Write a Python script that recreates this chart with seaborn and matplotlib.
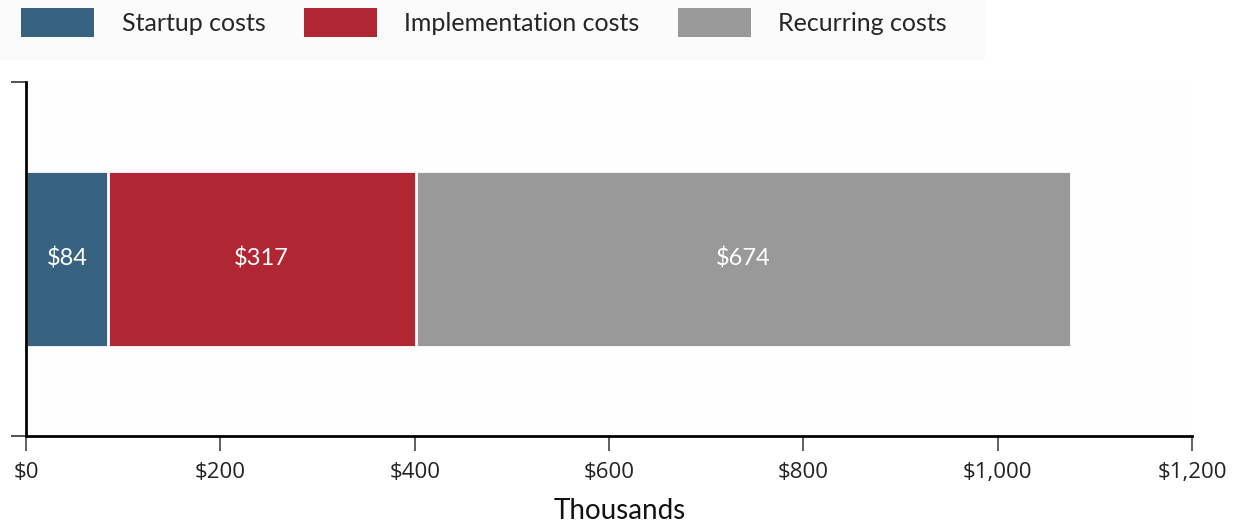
import matplotlib
matplotlib.use("Agg")
import matplotlib.pyplot as plt
from matplotlib.patches import Patch, Rectangle
import seaborn as sns
import numpy as np

# Cost components, in thousands of dollars
categories = ["Startup costs", "Implementation costs", "Recurring costs"]
values = [84, 317, 674]
colors = ["#376381", "#b02633", "#999999"]
xticks = [0, 200, 400, 600, 800, 1000, 1200]
xtick_labels = ["$0", "$200", "$400", "$600", "$800", "$1,000", "$1,200"]

sns.set_theme(style="white")
plt.rcParams["font.family"] = ["Open Sans", "DejaVu Sans"]
label_font = ["Lato", "DejaVu Sans"]

W, H = 1237, 525
fig = plt.figure(figsize=(W / 100, H / 100), dpi=100)
fig.patch.set_facecolor("white")

# Light panel behind the legend
fig.patches.append(Rectangle((0, 1 - 60 / H), 985 / W, 60 / H, transform=fig.transFigure,
                             facecolor="#fbfbfb", edgecolor="none", zorder=0))

ax = fig.add_axes([26 / W, 1 - 436 / H, (1192 - 26) / W, (436 - 82) / H])
ax.set_facecolor("#fefefe")

# Stacked horizontal bar: draw cumulative totals, largest first
cum = np.cumsum(values)
row = ["Total"]
for i in reversed(range(len(values))):
    sns.barplot(x=[cum[i]], y=row, orient="h", color=colors[i], width=0.495,
                edgecolor="white", linewidth=2, saturation=1, ax=ax)

starts = np.concatenate([[0], cum[:-1]])
for s, v in zip(starts, values):
    ax.text(s + v / 2, 0, f"${v:,}", color="white", ha="center", va="center",
            fontsize=17, family=label_font)

ax.set_xlim(0, 1200)
ax.set_ylim(0.5, -0.5)
ax.set_xticks(xticks)
ax.set_xticklabels(xtick_labels, fontsize=16, color="#222222")
ax.set_yticks([-0.5, 0.5])
ax.set_yticklabels([])
ax.set_ylabel("")
ax.set_xlabel("Thousands", fontsize=20, color="#111111", labelpad=8, family=label_font)
ax.xaxis.set_label_coords(0.509, -0.175)

ax.tick_params(axis="x", length=11, width=1.2, color="#444444", pad=8, bottom=True)
ax.tick_params(axis="y", length=11, width=1.2, color="#333333", left=True)
for side in ["top", "right"]:
    ax.spines[side].set_visible(False)
for side in ["left", "bottom"]:
    ax.spines[side].set_visible(True)
    ax.spines[side].set_color("black")
    ax.spines[side].set_linewidth(2)

fs = 18
handles = [Patch(facecolor=c, edgecolor="none") for c in colors]
leg = fig.legend(handles, categories, loc="upper left", bbox_to_anchor=(13 / W, 1.0),
                 ncol=3, frameon=False, handlelength=2.92, handleheight=1.42,
                 handletextpad=1.1, columnspacing=1.53, borderpad=0.33,
                 borderaxespad=0.0, prop={"family": label_font, "size": fs})

fig.savefig("out.png", dpi=100)
